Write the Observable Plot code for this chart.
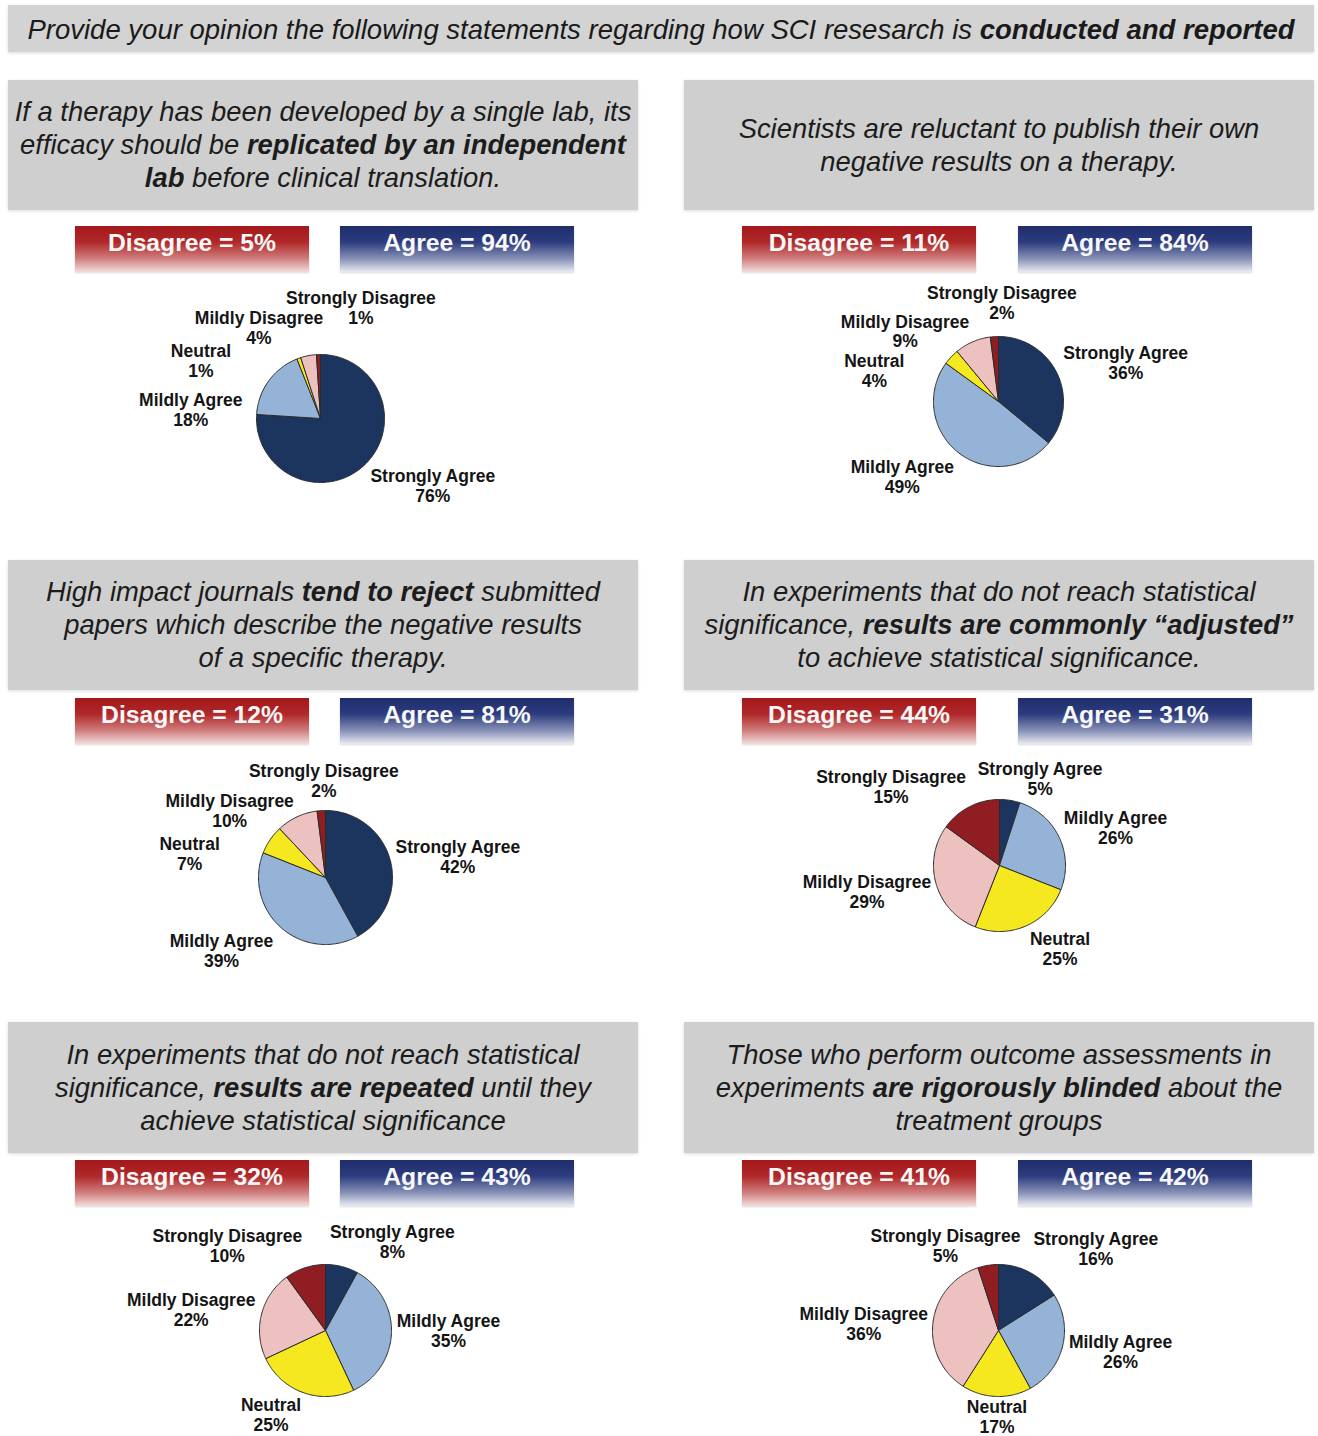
<!DOCTYPE html>
<html>
<head>
<meta charset="utf-8">
<script src="https://cdn.jsdelivr.net/npm/d3@7"></script>
<script src="https://cdn.jsdelivr.net/npm/@observablehq/plot@0.6"></script>
<style>
  body { margin: 0; background: #fff; }
  #fig { position: relative; width: 1318px; height: 1436px; overflow: hidden;
         font-family: "Liberation Sans", Arial, sans-serif; background: #fff; }
  .title { position: absolute; left: 8px; top: 5px; width: 1306px; height: 47px;
           background: #d3d3d3; font-style: italic; font-size: 27.5px; line-height: 49px;
           text-align: center; color: #1a1a1a; box-shadow: 0 1px 3px rgba(0,0,0,0.15); white-space: nowrap; }
  .hdr { position: absolute; width: 630px; background: #cfcfcf; font-style: italic;
         font-size: 27.4px; line-height: 33px; text-align: center; color: #1c1c1c;
         display: flex; align-items: center; justify-content: center; white-space: nowrap;
         box-shadow: 0 1px 3px rgba(0,0,0,0.15); }
  .hdr span { display: block; margin-top: -1px; }
  .box { position: absolute; height: 46px; width: 234px; color: #f7f7f7; font-weight: bold;
         font-size: 24.7px; text-align: center; line-height: 33px; box-shadow: 0 1px 2px rgba(0,0,0,0.15); }
  .red { background: linear-gradient(to bottom, #a3181b 0%, #b02829 35%, #cf7b7b 70%, #f1dcdc 100%); }
  .blue { background: linear-gradient(to bottom, #1f2d6c 0%, #2c3c7e 35%, #8a93b8 72%, #e9ebf2 100%); }
  .pie { position: absolute; }
</style>
</head>
<body>
<div id="fig"></div>
<script>
// ---------------- data ----------------
const titleHtml = "Provide your opinion the following statements regarding how SCI resesarch is <b>conducted and reported</b>";

const statements = [
  "If a therapy has been developed by a single lab, its<br>efficacy should be <b>replicated by an independent</b><br><b>lab</b> before clinical translation.",
  "Scientists are reluctant to publish their own<br>negative results on a therapy.",
  "High impact journals <b>tend to reject</b> submitted<br>papers which describe the negative results<br>of a specific therapy.",
  "In experiments that do not reach statistical<br>significance, <b>results are commonly “adjusted”</b><br>to achieve statistical significance.",
  "In experiments that do not reach statistical<br>significance, <b>results are repeated</b> until they<br>achieve statistical significance",
  "Those who perform outcome assessments in<br>experiments <b>are rigorously blinded</b> about the<br>treatment groups"
];

const categories = ["Strongly Agree", "Mildly Agree", "Neutral", "Mildly Disagree", "Strongly Disagree"];

// percentages per statement, in category order
const q1 = [76, 18, 1, 4, 1];
const q2 = [36, 49, 4, 9, 2];
const q3 = [42, 39, 7, 10, 2];
const q4 = [5, 26, 25, 29, 15];
const q5 = [8, 35, 25, 22, 10];
const q6 = [16, 26, 17, 36, 5];
const seriesValues = [q1, q2, q3, q4, q5, q6];

const disagreeTotals = [5, 11, 12, 44, 32, 41];
const agreeTotals = [94, 84, 81, 31, 43, 42];

// ---------------- styles / layout ----------------
const sliceColors = ["#1c355e", "#95b3d7", "#f6e81e", "#eec1c1", "#8f1d21"];

const colX = [8, 684];
const redOffset = [67, 58];
const blueOffset = [332, 334];
const hdrTop = [80, 560, 1022];
const hdrH = [130, 130, 131];
const boxTop = [226, 698, 1160];
const plotTop = [275, 748, 1210];
const plotH = [280, 270, 226];

// pie centre (local to its plot) and radius
const pieGeom = [
  {cx: 312, cy: 143, r: 64},
  {cx: 314, cy: 126, r: 65},
  {cx: 317, cy: 129, r: 67},
  {cx: 315, cy: 117, r: 66},
  {cx: 317, cy: 120, r: 66},
  {cx: 314, cy: 120, r: 66}
];
// label placement: [angle in degrees clockwise from 12 o'clock, distance from centre]
const labelPlacement = [
  [[121, 131], [274, 130], [296, 133], [326, 110], [20, 118]],
  [[73, 133], [232, 122], [284, 128], [307, 117], [2, 99]],
  [[81, 134], [235, 127], [280, 138], [305, 117], [359, 97]],
  [[25, 96], [72, 122], [144, 103], [259, 135], [306, 134]],
  [[37, 111], [90, 123], [213, 100], [279, 136], [311, 130]],
  [[50, 127], [100, 124], [181, 86], [273, 135], [328, 100]]
];

// ---------------- build ----------------
const fig = document.getElementById("fig");

const t = document.createElement("div");
t.className = "title";
t.innerHTML = titleHtml;
fig.appendChild(t);

function slicePoints(values, g) {
  const arcs = d3.pie().sort(null).value(d => d).startAngle(0).endAngle(2 * Math.PI)(values);
  const pts = [];
  arcs.forEach((a, i) => {
    const cat = categories[i];
    pts.push({cat, x: g.cx, y: g.cy});
    const n = Math.max(2, Math.ceil((a.endAngle - a.startAngle) / (Math.PI / 180)));
    for (let k = 0; k <= n; k++) {
      const th = a.startAngle + (a.endAngle - a.startAngle) * k / n;
      pts.push({cat, x: g.cx + g.r * Math.sin(th), y: g.cy - g.r * Math.cos(th)});
    }
    pts.push({cat, x: g.cx, y: g.cy});
  });
  return pts;
}

seriesValues.forEach((values, qi) => {
  const row = Math.floor(qi / 2), col = qi % 2;
  const left = colX[col];

  const h = document.createElement("div");
  h.className = "hdr";
  h.style.left = left + "px";
  h.style.top = hdrTop[row] + "px";
  h.style.height = hdrH[row] + "px";
  h.innerHTML = "<span>" + statements[qi] + "</span>";
  fig.appendChild(h);

  const red = document.createElement("div");
  red.className = "box red";
  red.style.left = (left + redOffset[col]) + "px";
  red.style.top = boxTop[row] + "px";
  red.textContent = "Disagree = " + disagreeTotals[qi] + "%";
  fig.appendChild(red);

  const blue = document.createElement("div");
  blue.className = "box blue";
  blue.style.left = (left + blueOffset[col]) + "px";
  blue.style.top = boxTop[row] + "px";
  blue.textContent = "Agree = " + agreeTotals[qi] + "%";
  fig.appendChild(blue);

  const g = pieGeom[qi];
  const W = 630, H = plotH[row];
  const labels = categories.map((c, i) => {
    const [ang, dist] = labelPlacement[qi][i];
    const a = ang * Math.PI / 180;
    return {x: g.cx + dist * Math.sin(a), y: g.cy - dist * Math.cos(a), text: c + "\n" + values[i] + "%"};
  });

  const chart = Plot.plot({
    width: W, height: H, margin: 0,
    x: {domain: [0, W], axis: null},
    y: {domain: [0, H], reverse: true, axis: null},
    color: {domain: categories, range: sliceColors},
    style: {fontFamily: "'Liberation Sans', Arial, sans-serif", background: "transparent", overflow: "visible"},
    marks: [
      Plot.line(slicePoints(values, g), {x: "x", y: "y", z: "cat", fill: "cat", stroke: "#2b2b2b", strokeWidth: 1, strokeLinejoin: "round"}),
      Plot.text(labels, {x: "x", y: "y", text: "text", fontSize: 17.5, fontWeight: "bold", fill: "#151515", lineHeight: 1.14, lineAnchor: "middle", textAnchor: "middle"})
    ]
  });
  chart.classList.add("pie");
  chart.style.left = left + "px";
  chart.style.top = plotTop[row] + "px";
  fig.appendChild(chart);
});
</script>
</body>
</html>
